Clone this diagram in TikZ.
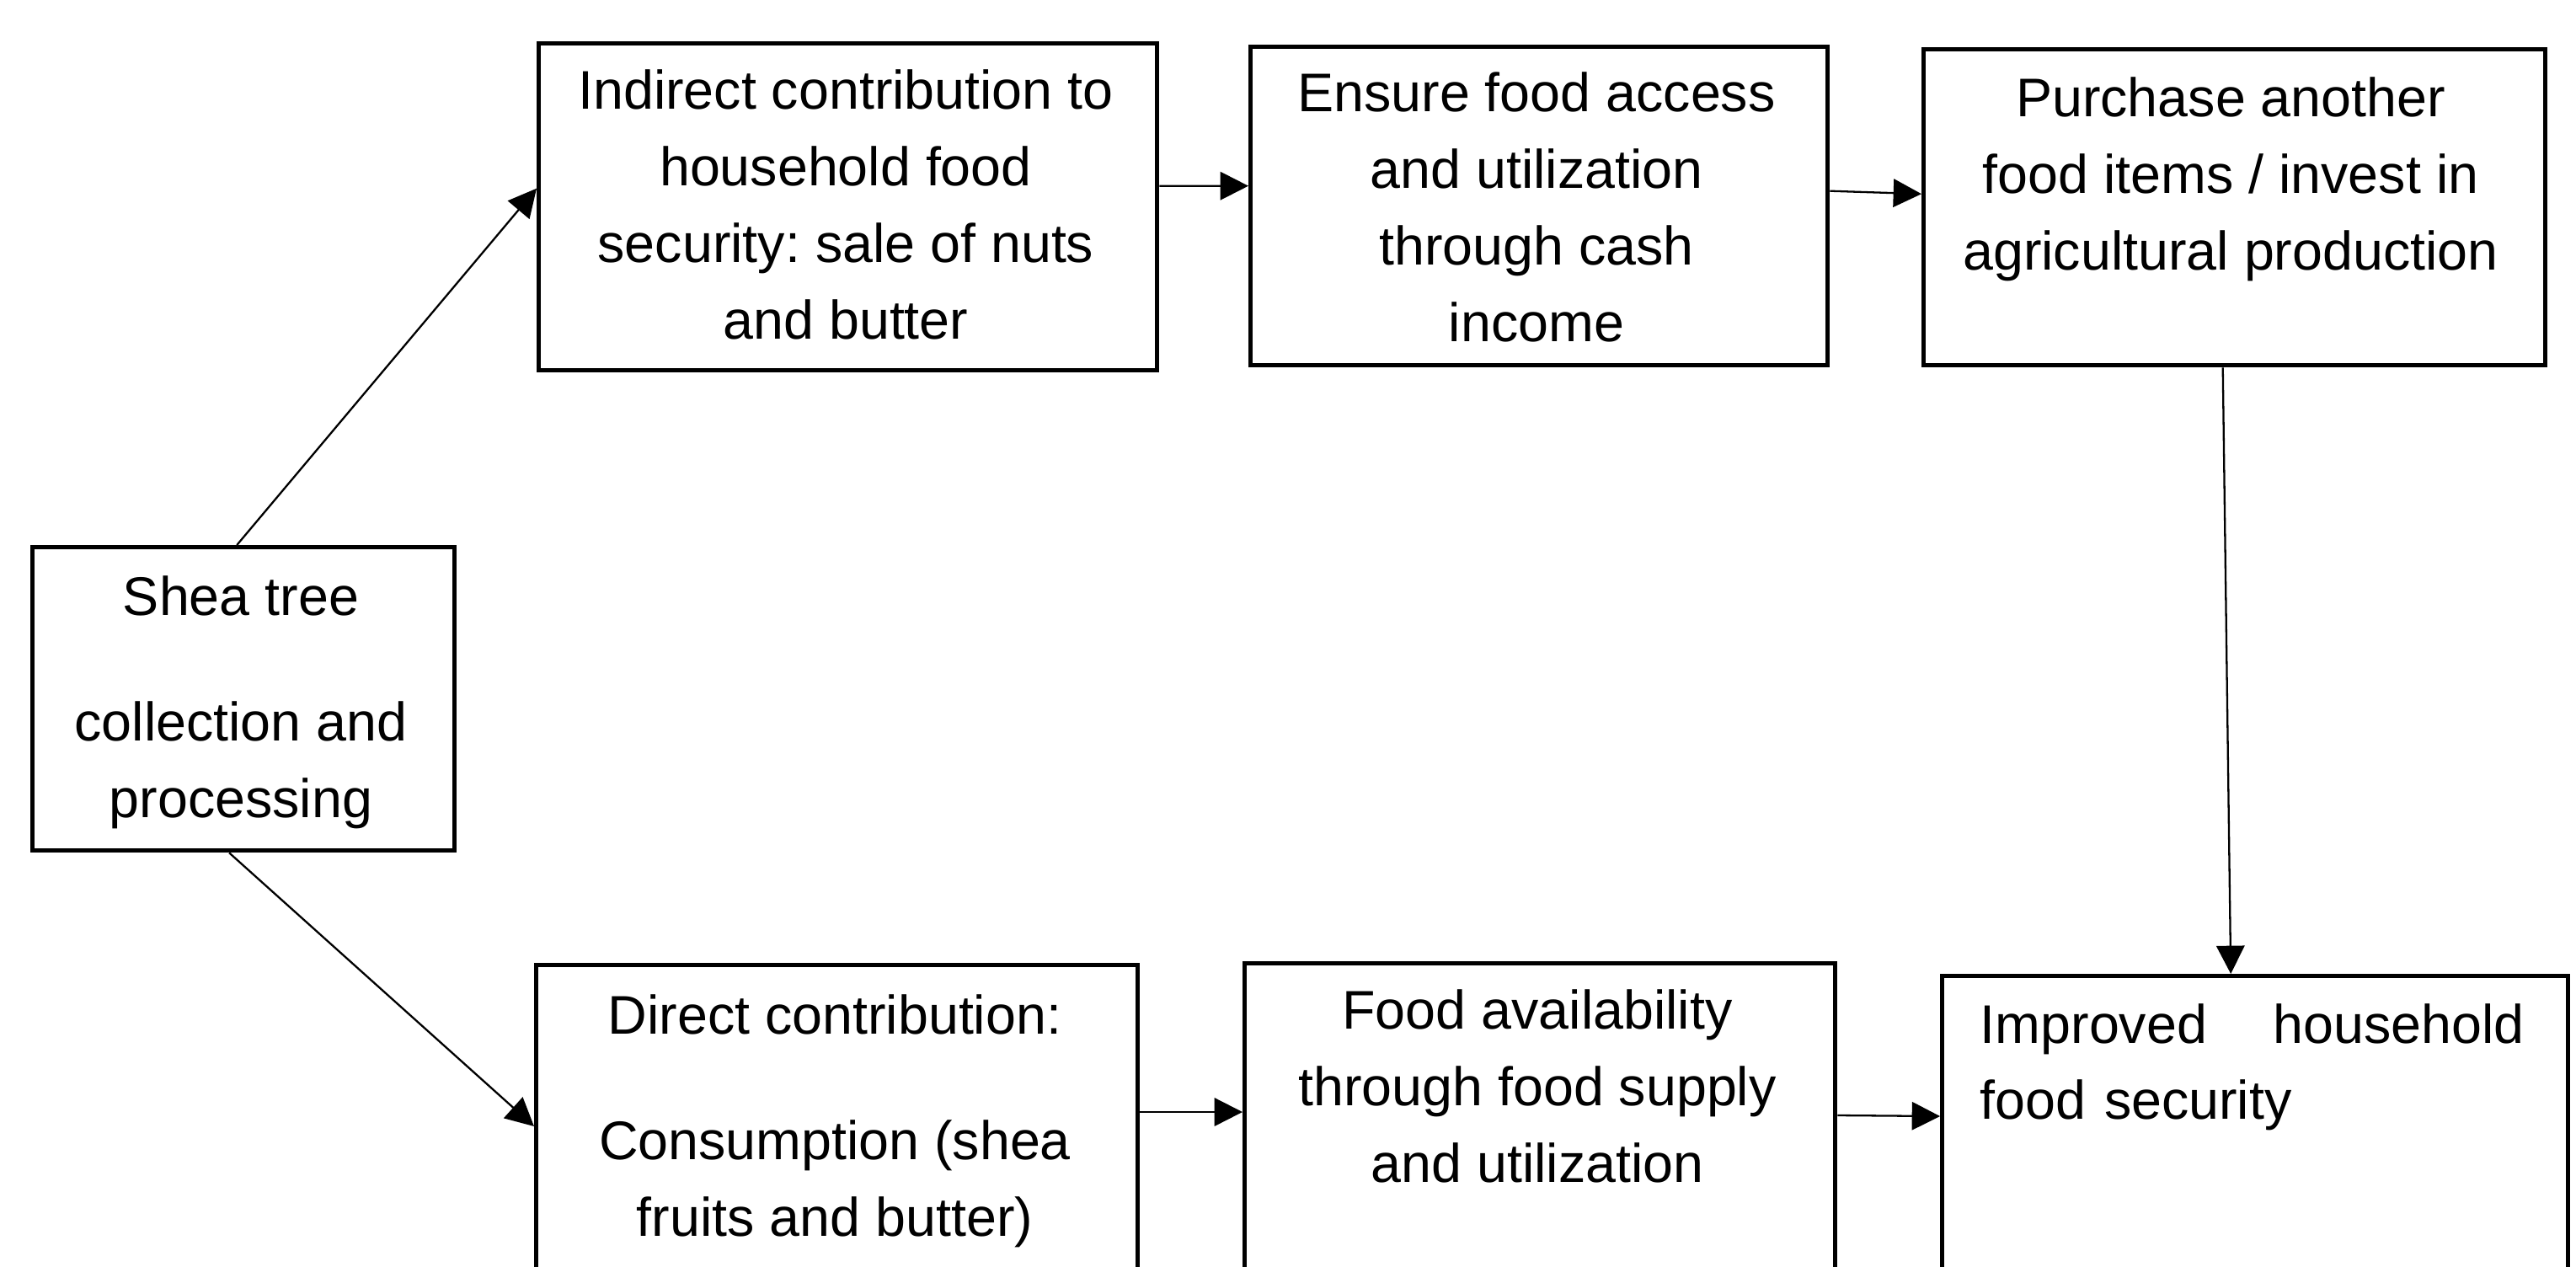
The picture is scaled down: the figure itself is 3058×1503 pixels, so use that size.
\documentclass[tikz,border=0pt]{standalone}
\usepackage{fontspec}
\setmainfont{Liberation Sans}
\usetikzlibrary{arrows.meta,calc}
\frenchspacing
\begin{document}
\begin{tikzpicture}[x=0.24pt,y=-0.24pt,
  box/.style={draw,line width=1.3pt,inner sep=0pt,anchor=north west},
  txt/.style={font=\fontsize{15.5pt}{21.8pt}\selectfont,align=center,inner sep=0pt,anchor=base},
  arr/.style={line width=0.55pt,-{Triangle[length=8pt,width=8pt]}}]
\useasboundingbox (0,0) rectangle (3058,1503);
\clip (0,0) rectangle (3058,1503);
% boxes
\node[box,minimum width=120.24pt,minimum height=86.4pt] (shea) at (36,647) {};
\node[box,minimum width=176.16pt,minimum height=93.12pt] (ind) at (637,49) {};
\node[box,minimum width=164.4pt,minimum height=90.72pt] (ens) at (1482,53) {};
\node[box,minimum width=177.12pt,minimum height=90pt] (pur) at (2281,56) {};
\node[box,minimum width=171.36pt,minimum height=121.68pt] (dir) at (634,1143) {};
\node[box,minimum width=168.24pt,minimum height=122.16pt] (ava) at (1475,1141) {};
\node[box,minimum width=178.32pt,minimum height=118.56pt] (imp) at (2303,1156) {};
% texts (anchor base = last line)
\node[txt] (sheat) at (286,970) {Shea tree\\[13.9pt]collection and\\processing};
\node[txt] (indt) at (1004,402) {Indirect contribution to\\household food\\security: sale of nuts\\and butter};
\node[txt] (enst) at (1824,405) {Ensure food access\\and utilization\\through cash\\income};
\node[txt] (purt) at (2648,320) {Purchase another\\food items / invest in\\agricultural production};
\node[txt] (dirt) at (991,1467) {Direct contribution:\\[13.9pt]Consumption (shea\\fruits and butter)};
\node[txt] (avat) at (1825,1403) {Food availability\\through food supply\\and utilization};
\node[txt,anchor=base west,align=left,text width=155pt] (impt) at (2350,1238) {Improved\hfill household\\food security};
% connectors
\draw[arr] ($(shea.north)+(-8,0)$) -- ($(ind.west)+(0,-22)$);
\draw[arr] ($(shea.south)+(-17,0)$) -- ($(dir.north west)+(0,194)$);
\draw[arr] ($(ind.east)+(0,-25)$) -- ($(ens.west)+(0,-24)$);
\draw[arr] ($(ens.east)+(0,-18)$) -- ($(pur.west)+(0,-16)$);
\draw[arr] ($(pur.south)+(-14,0)$) -- ($(imp.north)+(-29,0)$);
\draw[arr] ($(dir.north east)+(0,177)$) -- ($(ava.north west)+(0,179)$);
\draw[arr] ($(ava.north east)+(0,183)$) -- ($(imp.north west)+(0,169)$);
\end{tikzpicture}
\end{document}
